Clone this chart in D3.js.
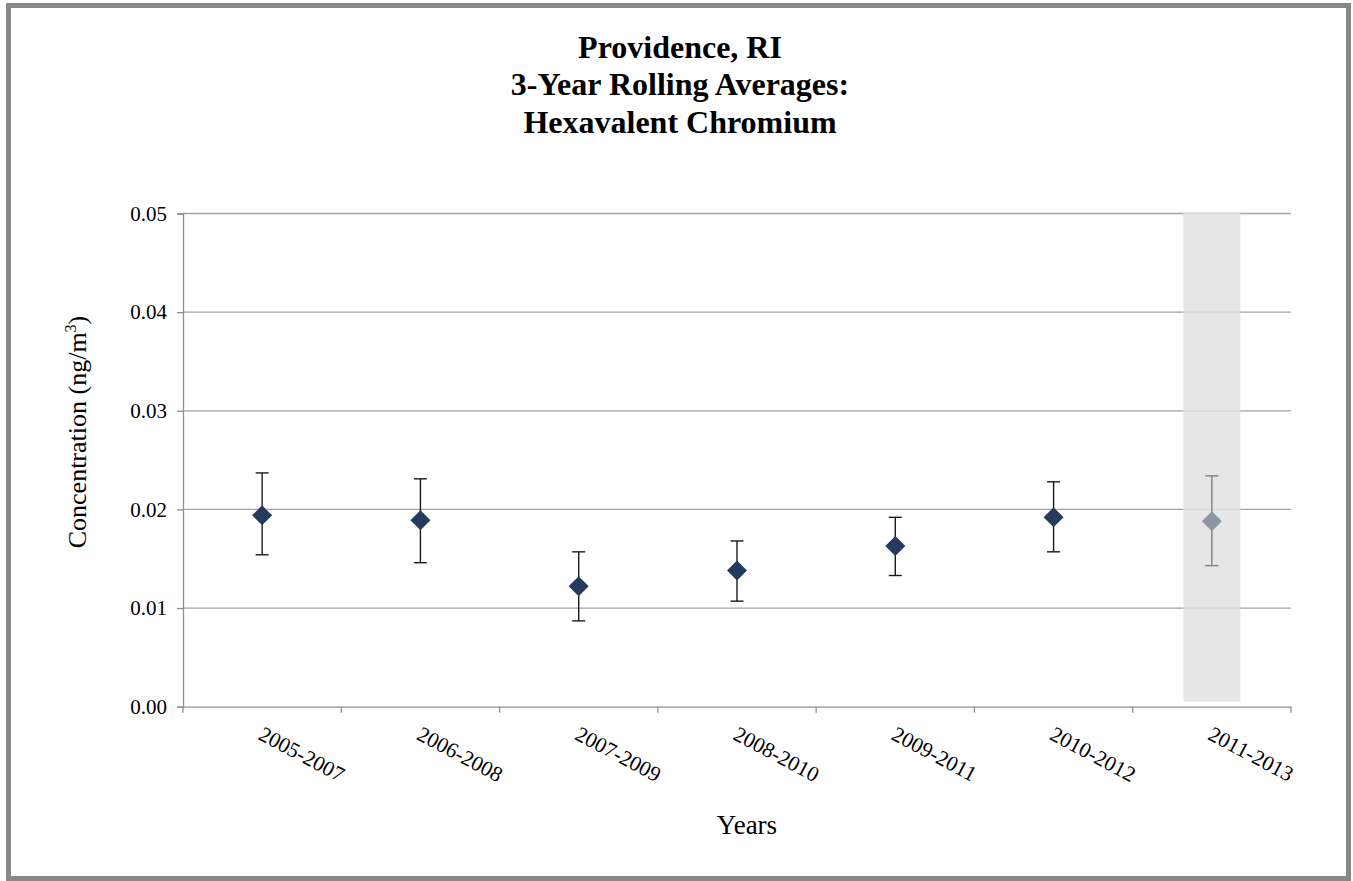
<!DOCTYPE html>
<html>
<head>
<meta charset="utf-8">
<script src="https://cdn.jsdelivr.net/npm/d3@7"></script>
<style>
  html, body { margin: 0; padding: 0; background: #fff; }
  svg { display: block; }
  text { font-family: "Liberation Serif", "Times New Roman", serif; fill: #000; }
</style>
</head>
<body>
<svg id="chart" width="1353" height="881"></svg>
<script>
// Three-year rolling averages of hexavalent chromium, Providence RI (ng/m3)
const periods = ["2005-2007", "2006-2008", "2007-2009", "2008-2010", "2009-2011", "2010-2012", "2011-2013"];
const averages = [0.0194, 0.0189, 0.0122, 0.0138, 0.0163, 0.0192, 0.0188];
const lowerBounds = [0.0154, 0.0146, 0.0087, 0.0107, 0.0133, 0.0157, 0.0143];
const upperBounds = [0.0237, 0.0231, 0.0157, 0.0168, 0.0192, 0.0228, 0.0234];
const yTicks = [0, 0.01, 0.02, 0.03, 0.04, 0.05];
const titleLines = ["Providence, RI", "3-Year Rolling Averages:", "Hexavalent Chromium"];
const highlightedPeriod = "2011-2013";

const plot = { left: 183, right: 1291, top: 213.5, bottom: 706.7 };
const svg = d3.select("#chart");

// outer frame
svg.append("rect")
  .attr("x", 8.5).attr("y", 5.5)
  .attr("width", 1340).attr("height", 873)
  .attr("fill", "#fff")
  .attr("stroke", "#878787").attr("stroke-width", 5);

const x = d3.scaleBand().domain(periods).range([plot.left, plot.right]).padding(0);
const y = d3.scaleLinear().domain([0, 0.05]).range([plot.bottom, plot.top]);
const cx = p => x(p) + x.bandwidth() / 2;

// title
svg.append("g").selectAll("text")
  .data(titleLines)
  .join("text")
  .attr("x", 680)
  .attr("y", (d, i) => 57.5 + i * 37.5)
  .attr("text-anchor", "middle")
  .attr("font-size", 32)
  .attr("font-weight", "bold")
  .text(d => d);

// horizontal gridlines
svg.append("g").selectAll("line")
  .data(yTicks.filter(t => t > 0))
  .join("line")
  .attr("x1", plot.left).attr("x2", plot.right)
  .attr("y1", d => y(d)).attr("y2", d => y(d))
  .attr("stroke", "#a3a3a3").attr("stroke-width", 1.3);

// shaded band over the most recent period
svg.append("rect")
  .attr("x", cx(highlightedPeriod) - 28.5)
  .attr("width", 57)
  .attr("y", y(0.05) - 1.5)
  .attr("height", y(0) - 5 - (y(0.05) - 1.5))
  .attr("fill", "#e2e2e2")
  .attr("fill-opacity", 0.85);

// y axis
const yAxis = d3.axisLeft(y).tickValues(yTicks).tickFormat(d3.format(".2f")).tickSizeOuter(0).tickSize(6).tickPadding(10);
const gy = svg.append("g").attr("transform", `translate(${plot.left},0)`).call(yAxis);
gy.select(".domain").attr("stroke", "#8f8f8f").attr("stroke-width", 1.3);
gy.selectAll(".tick line").attr("stroke", "#8f8f8f").attr("stroke-width", 1.3);
gy.selectAll(".tick text")
  .attr("font-family", "Liberation Serif, Times New Roman, serif")
  .attr("font-size", 21).attr("fill", "#000");

// x axis with ticks between categories
const xAxis = d3.axisBottom(x).tickSize(0).tickFormat("");
const gx = svg.append("g").attr("transform", `translate(0,${plot.bottom})`).call(xAxis);
gx.select(".domain").attr("stroke", "#8f8f8f").attr("stroke-width", 1.3);
gx.selectAll(".tick").remove();
gx.selectAll("line.sep")
  .data(periods.map(p => x(p) + x.bandwidth()).concat([plot.left]))
  .join("line")
  .attr("class", "sep")
  .attr("x1", d => d).attr("x2", d => d)
  .attr("y1", 0).attr("y2", 6)
  .attr("stroke", "#8f8f8f").attr("stroke-width", 1.3);

// rotated category labels
svg.append("g").selectAll("text")
  .data(periods)
  .join("text")
  .attr("transform", d => `translate(${cx(d) - 5},${plot.bottom + 32}) rotate(28)`)
  .attr("font-size", 21.5)
  .text(d => d);

// error bars
const isHi = p => p === highlightedPeriod;
const bars = svg.append("g").selectAll("g")
  .data(periods.map((p, i) => ({ p, v: averages[i], lo: lowerBounds[i], hi: upperBounds[i] })))
  .join("g")
  .attr("stroke", d => isHi(d.p) ? "#808080" : "#1a1a1a")
  .attr("stroke-width", 1.4);
bars.append("line")
  .attr("x1", d => cx(d.p)).attr("x2", d => cx(d.p))
  .attr("y1", d => y(d.lo)).attr("y2", d => y(d.hi));
bars.append("line")
  .attr("x1", d => cx(d.p) - 6.5).attr("x2", d => cx(d.p) + 6.5)
  .attr("y1", d => y(d.hi)).attr("y2", d => y(d.hi));
bars.append("line")
  .attr("x1", d => cx(d.p) - 6.5).attr("x2", d => cx(d.p) + 6.5)
  .attr("y1", d => y(d.lo)).attr("y2", d => y(d.lo));

// diamond markers
const diamond = d3.symbol().type(d3.symbolSquare).size(200);
svg.append("g").selectAll("path")
  .data(periods.map((p, i) => ({ p, v: averages[i] })))
  .join("path")
  .attr("d", diamond)
  .attr("transform", d => `translate(${cx(d.p)},${y(d.v)}) rotate(45)`)
  .attr("fill", d => isHi(d.p) ? "#8e96a3" : "#253b5e");

// axis titles
const yTitle = svg.append("text")
  .attr("transform", "translate(86,432) rotate(-90)")
  .attr("text-anchor", "middle")
  .attr("font-size", 26);
yTitle.append("tspan").text("Concentration (ng/m");
yTitle.append("tspan").attr("font-size", 16).attr("dy", -10).text("3");
yTitle.append("tspan").attr("dy", 10).text(")");

svg.append("text")
  .attr("x", 747).attr("y", 834)
  .attr("text-anchor", "middle")
  .attr("font-size", 27)
  .text("Years");
</script>
</body>
</html>
